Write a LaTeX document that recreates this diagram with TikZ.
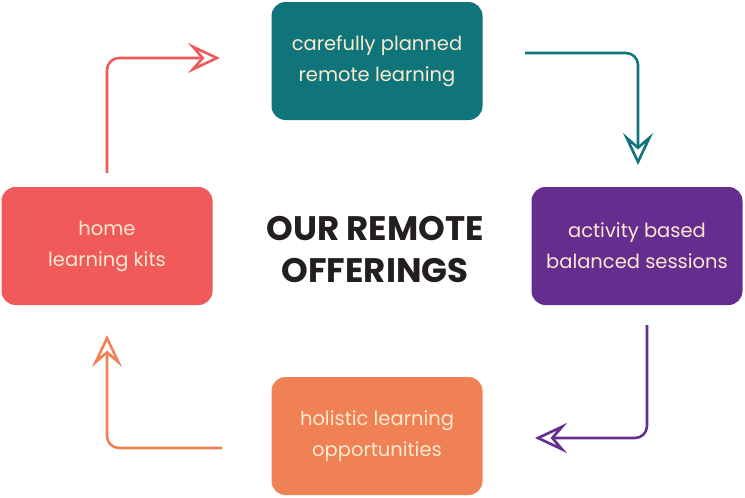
\documentclass[tikz,border=0pt]{standalone}
\usepackage{fontspec}
\setmainfont{Poppins}
\usetikzlibrary{arrows.meta}
\definecolor{tealbox}{HTML}{10757A}
\definecolor{redbox}{HTML}{F05A5B}
\definecolor{purplebox}{HTML}{642D8F}
\definecolor{orangebox}{HTML}{F08155}
\definecolor{cream}{HTML}{FBE9D0}
\definecolor{ink}{HTML}{231F20}
\begin{document}
\begin{tikzpicture}[x=1pt,y=-1pt]
  \tikzstyle{every node}+=[inner sep=0pt]
  \tikzstyle{offer}=[rounded corners=14pt, minimum width=211pt, minimum height=118pt, text=cream, align=center, font=\fontsize{19.5}{31}\selectfont]
  \tikzstyle{flow}=[line width=2.6pt, rounded corners=12pt, -{Stealth[open,length=32pt,width=30pt,inset=13pt]}]
  \useasboundingbox (0,0) rectangle (745,498);
  \node[offer, fill=tealbox] (planned) at (377,61) {carefully planned\\remote learning};
  \node[offer, fill=purplebox] (activity) at (637,246) {activity based\\balanced sessions};
  \node[offer, fill=orangebox] (holistic) at (377,436) {holistic learning\\opportunities};
  \node[offer, fill=redbox] (kits) at (107,246) {home\\learning kits};
  \node[text=ink, align=center, font=\bfseries\fontsize{34}{42}\selectfont] (title) at (375,250) {OUR REMOTE\\OFFERINGS};
  % arrow ends
  \coordinate (kitsout) at (107,173);
  \coordinate (plannedin) at (220,58);
  \coordinate (plannedout) at (525,53);
  \coordinate (activityin) at (638,165);
  \coordinate (activityout) at (647,325);
  \coordinate (holisticin) at (535,438);
  \coordinate (holisticout) at (222,448);
  \coordinate (kitsin) at (107,335);
  \draw [flow, redbox] (kitsout) |- (plannedin);
  \draw [flow, tealbox] (plannedout) -| (activityin);
  \draw [flow, purplebox] (activityout) |- (holisticin);
  \draw [flow, orangebox] (holisticout) -| (kitsin);
\end{tikzpicture}
\end{document}
